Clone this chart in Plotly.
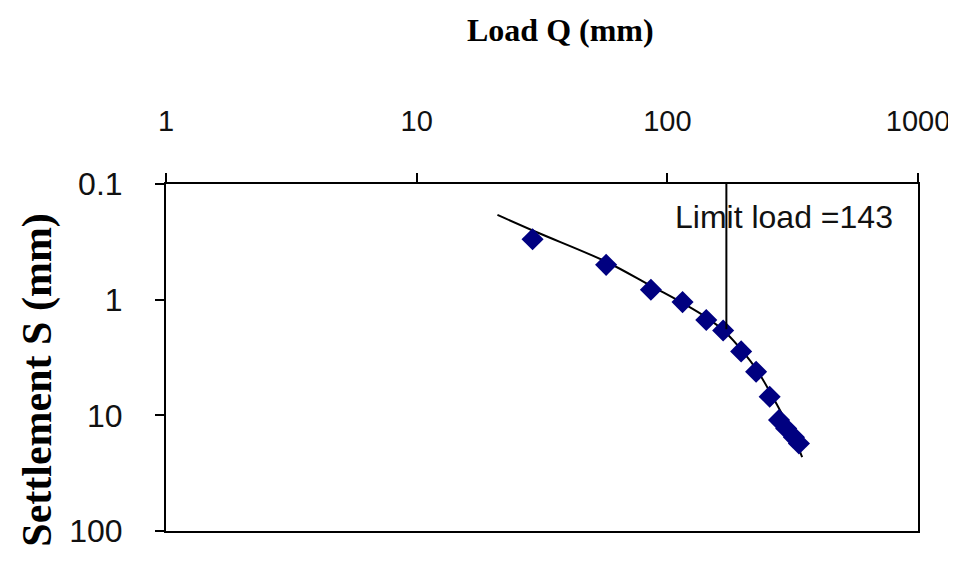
import plotly.graph_objects as go

# measured load-settlement points
load_q = [29, 57, 86, 115, 143, 167, 197, 226, 256, 279, 298, 320, 335]
settle_s = [0.30, 0.50, 0.82, 1.05, 1.50, 1.85, 2.8, 4.2, 6.9, 11.0, 13.0, 15.5, 17.5]

# fitted curve
fit_q = [21, 30, 57, 86, 116, 145, 170, 200, 230, 260, 290, 320, 345]
fit_s = [0.185, 0.26, 0.47, 0.76, 1.08, 1.45, 1.9, 2.8, 4.2, 6.6, 10.2, 15.5, 23]

# limit load marker line
limit_x = [172, 172]
limit_y = [0.085, 1.8]

x_ticks = [1, 10, 100, 1000]
y_ticks = [0.1, 1, 10, 100]

tick_font = dict(family="Liberation Sans, Arial", size=32, color="#111")
xtick_font = dict(family="Liberation Sans, Arial", size=29, color="#111")

fig = go.Figure()
fig.add_trace(go.Scatter(x=fit_q, y=fit_s, mode="lines", line=dict(color="black", width=2, shape="spline")))
fig.add_trace(go.Scatter(x=load_q, y=settle_s, mode="markers",
                         marker=dict(symbol="diamond", size=17, color="#000080")))
fig.add_trace(go.Scatter(x=limit_x, y=limit_y, mode="lines", cliponaxis=False,
                         line=dict(color="black", width=2)))

fig.update_xaxes(type="log", range=[0, 3], side="top", tickvals=x_ticks, ticktext=[str(v) for v in x_ticks],
                 showline=True, mirror=True, linecolor="black", linewidth=2,
                 ticks="outside", ticklen=9, tickcolor="black", tickwidth=2, ticklabelstandoff=30,
                 showgrid=False, zeroline=False, tickfont=xtick_font, automargin=False)
fig.update_yaxes(type="log", range=[2, -1], tickvals=y_ticks, ticktext=["0.1", "1", "10", "100"],
                 showline=True, mirror=True, linecolor="black", linewidth=2,
                 ticks="outside", ticklen=9, tickcolor="black", tickwidth=2, ticklabelstandoff=26,
                 showgrid=False, zeroline=False, tickfont=tick_font, automargin=False)

fig.add_annotation(text="<b>Load Q (mm)</b>", xref="paper", yref="paper", x=0.524, y=1.444,
                   yanchor="middle", showarrow=False,
                   font=dict(family="Liberation Serif, Times New Roman", size=32, color="black"))
fig.add_annotation(text="<b>Settlement S (mm)</b>", xref="paper", yref="paper", x=-0.172, y=0.435,
                   xanchor="center", yanchor="middle", textangle=-90, showarrow=False,
                   font=dict(family="Liberation Serif, Times New Roman", size=42, color="black"))
fig.add_annotation(text="Limit load =143", xref="paper", yref="paper", x=0.97, y=0.904,
                   xanchor="right", yanchor="middle", showarrow=False, font=tick_font)

fig.update_layout(width=948, height=577, margin=dict(l=158, r=38, t=176, b=54),
                  plot_bgcolor="white", paper_bgcolor="white", showlegend=False)

fig.write_html("out.html")
